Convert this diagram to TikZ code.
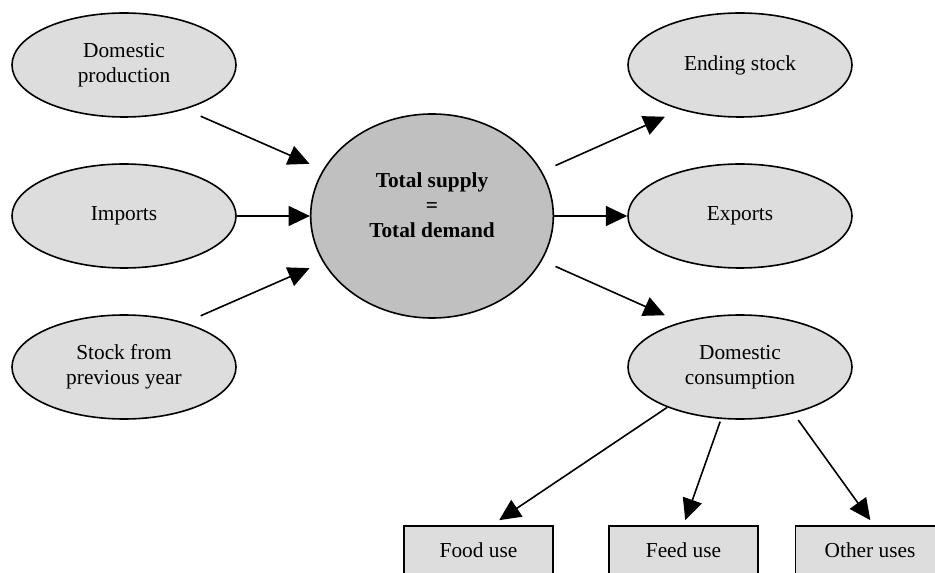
\documentclass[tikz,border=0pt]{standalone}
\usepackage{fontspec}
\setmainfont{Liberation Serif}
\usetikzlibrary{shapes.geometric,arrows.meta}
\definecolor{softgray}{gray}{0.867}
\definecolor{midgray}{gray}{0.753}

\begin{document}
\begin{tikzpicture}[x=0.75pt, y=-0.75pt,
	every node/.style={font=\fontsize{16}{18.75}\selectfont, align=center},
	supplyell/.style={draw, fill=softgray, ellipse, line width=1.2pt, minimum width=168pt, minimum height=78pt, inner sep=0pt},
	totalell/.style={supplyell, fill=midgray, minimum width=182pt, minimum height=153pt},
	usebox/.style={draw, fill=softgray, rectangle, line width=1.2pt, minimum width=111.75pt, minimum height=36pt, inner sep=0pt},
	flowarrow/.style={line width=1.2pt, -{Triangle[length=16pt, width=15pt]}}]
	\useasboundingbox (0,0) rectangle (935,573);
	\clip (0,0) rectangle (935,573);
	
	% left side
	\node[supplyell] (dp) at (124,65){Domestic\\production};
	\node[supplyell] (im) at (124,216){Imports};
	\node[supplyell] (sp) at (124,367){Stock from\\previous year};
	
	\node[totalell, label={[font=\fontsize{16}{18.75}\selectfont\bfseries, align=center, yshift=8pt]center:Total supply\\=\\Total demand}] (ts) at (432,216){};
	
	% right side
	\node[supplyell] (es) at (740,65){Ending stock};
	\node[supplyell] (ex) at (740,216){Exports};
	\node[supplyell] (dc) at (740,367){Domestic\\consumption};
	
	\node[usebox] (fu) at (478.5,550){Food use};
	\node[usebox] (fe) at (683.5,550){Feed use};
	\node[usebox] (ou) at (870,550){Other uses};
	
	\draw[flowarrow, shorten <=12.75pt, shorten >=11pt] (dp.-36.5) -- (ts.157.4);
	\draw[flowarrow] (im) -- (ts);
	\draw[flowarrow, shorten <=12.75pt, shorten >=11pt] (sp.36.5) -- (ts.-157.4);
	
	\draw[flowarrow, shorten <=11pt, shorten >=12.75pt] (ts.22.6) -- (es.-143.5);
	\draw[flowarrow] (ts) -- (ex);
	\draw[flowarrow, shorten <=11pt, shorten >=12.75pt] (ts.-22.6) -- (dc.143.5);
	
	\draw[flowarrow, shorten >=6.8pt] (dc.-151) -- (fu.62.7);
	\draw[flowarrow, shorten <=2pt, shorten >=4pt] (dc.-110) -- (fe.north);
	\draw[flowarrow, shorten <=6pt, shorten >=4.6pt] (dc.-41.6) -- (ou.81);
\end{tikzpicture}
\end{document}
